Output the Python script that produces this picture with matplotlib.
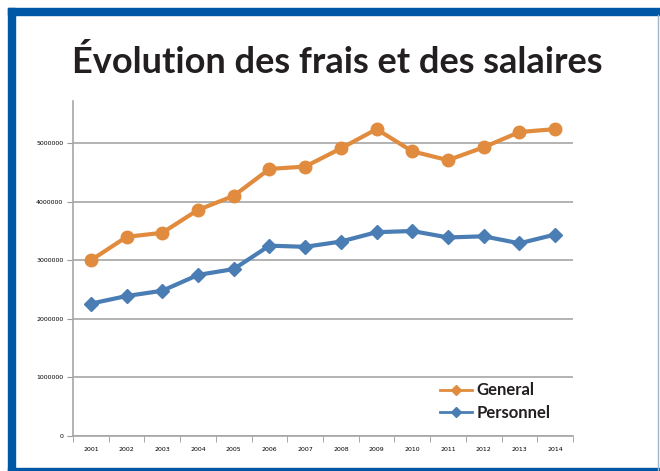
import numpy as np
import matplotlib.pyplot as plt
from matplotlib.patches import Rectangle
from matplotlib.lines import Line2D

years = ['2001', '2002', '2003', '2004', '2005', '2006', '2007',
         '2008', '2009', '2010', '2011', '2012', '2013', '2014']
general = [3.00e6, 3.40e6, 3.47e6, 3.86e6, 4.10e6, 4.56e6, 4.60e6,
           4.91e6, 5.24e6, 4.86e6, 4.71e6, 4.93e6, 5.19e6, 5.24e6]
personnel = [2.26e6, 2.39e6, 2.48e6, 2.75e6, 2.85e6, 3.25e6, 3.23e6,
             3.32e6, 3.48e6, 3.50e6, 3.39e6, 3.41e6, 3.29e6, 3.44e6]
yticks = [0, 1000000, 2000000, 3000000, 4000000, 5000000]

orange = '#E18B3E'
blue = '#4A7DB4'
frame = '#0057A6'

fig = plt.figure(figsize=(6.6, 4.71), dpi=100)
W, H = 660, 471

# blue frame (top, left, bottom) + thin right edge
fig.patches.append(Rectangle((8 / W, 1 - 15 / H), 1 - 8 / W, 7 / H, transform=fig.transFigure,
                             color=frame, zorder=0))
fig.patches.append(Rectangle((8 / W, 0), 7 / W, 1 - 8 / H, transform=fig.transFigure,
                             color=frame, zorder=0))
fig.patches.append(Rectangle((8 / W, 0), 1 - 8 / W, 3 / H, transform=fig.transFigure,
                             color=frame, zorder=0))
fig.lines.append(Line2D([658 / W, 658 / W], [0, 1 - 15 / H], transform=fig.transFigure,
                        color='#9FB5CC', lw=1))

fig.text(337 / W, 1 - 62 / H, 'Évolution des frais et des salaires', ha='center', va='center',
         fontsize=26, fontweight='bold', family='Lato', color='#231F20')

ax = fig.add_axes([73 / W, 1 - 436 / H, 500 / W, 335 / H])
x = np.arange(len(years))
ax.plot(x, general, color=orange, lw=3, marker='o', ms=9, label='General', zorder=3)
ax.plot(x, personnel, color=blue, lw=3, marker='D', ms=7.5, label='Personnel', zorder=3)

ax.set_xlim(-0.5, len(years) - 0.5)
ax.set_ylim(0, 5.72e6)
ax.set_yticks(yticks)
ax.set_yticklabels([str(v) for v in yticks], fontsize=4.5)
ax.set_xticks(x)
ax.set_xticklabels(years, fontsize=4.5)
ax.set_xticks(np.arange(len(years) + 1) - 0.5, minor=True)
ax.tick_params(axis='x', which='major', length=0, pad=8)
ax.tick_params(axis='x', which='minor', length=4, color='#999999', direction='out')
ax.tick_params(axis='y', length=4, color='#999999', pad=3)
ax.grid(axis='y', color='#A6A6A6', lw=1.2)
ax.set_axisbelow(True)
for s in ['top', 'right']:
    ax.spines[s].set_visible(False)
for s in ['left', 'bottom']:
    ax.spines[s].set_color('#A6A6A6')
    ax.spines[s].set_linewidth(1.2)

handles = [Line2D([], [], color=orange, lw=2, marker='D', ms=5),
           Line2D([], [], color=blue, lw=2, marker='D', ms=5)]
leg = ax.legend(handles, ['General', 'Personnel'], loc='lower right',
                bbox_to_anchor=(0.985, 0.0), frameon=False, handlelength=1.9,
                handletextpad=0.3, labelspacing=0.4,
                prop={'family': 'Lato', 'weight': 'bold', 'size': 12})
for t in leg.get_texts():
    t.set_color('#231F20')

fig.savefig('out.png', dpi=100)
